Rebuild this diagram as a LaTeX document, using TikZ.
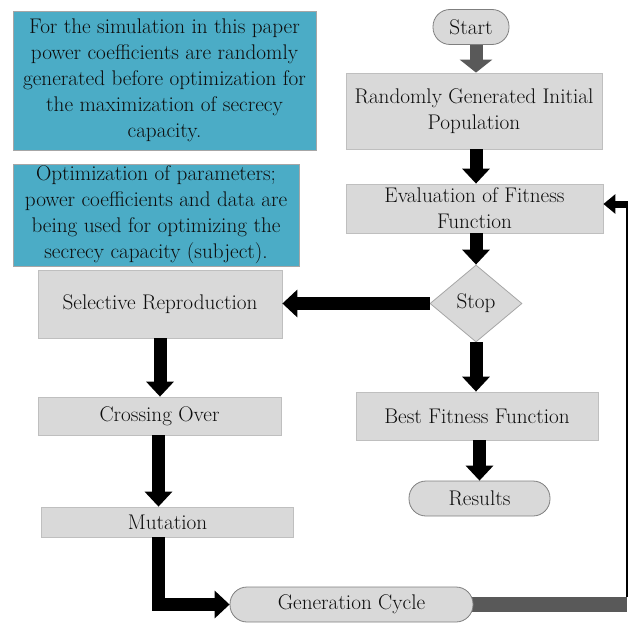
\documentclass[tikz,border=0pt]{standalone}
\usepackage{fontspec}
\usetikzlibrary{arrows.meta,shapes.geometric}
\definecolor{boxfill}{HTML}{D9D9D9}
\definecolor{boxline}{HTML}{BFBFBF}
\definecolor{roundline}{HTML}{7F7F7F}
\definecolor{tealbox}{HTML}{4BACC6}
\definecolor{tealline}{HTML}{A6A6A6}
\definecolor{arrgray}{HTML}{595959}
\definecolor{txt}{HTML}{0D0D0D}
\pgfdeclarelayer{background}
\pgfsetlayers{background,main}
\begin{document}
\begin{tikzpicture}[x=1pt,y=-1pt,
  every node/.style={font=\rmfamily\fontsize{21.2}{26}\selectfont, text=txt, align=center, inner sep=0pt},
  bluebox/.style={draw=tealline, fill=tealbox, line width=0.8pt},
  graybox/.style={draw=boxline, fill=boxfill, line width=0.8pt},
  roundbox/.style={draw=roundline, fill=boxfill, line width=0.8pt, rounded corners=17pt},
  decision/.style={diamond, draw=tealline, fill=boxfill, line width=0.8pt},
  blk/.style={draw=black, line width=13pt, -{Triangle[width=27pt,length=15pt]}},
  grayarr/.style={draw=arrgray, line width=13pt, -{Triangle[width=32pt,length=13pt]}},
  smallarr/.style={draw=black, line width=7pt, -{Triangle[width=19pt,length=12pt]}},
  loopline/.style={draw=black, line width=1.4pt},
  graybar/.style={draw=arrgray, line width=15pt}
]
\useasboundingbox (0,0) rectangle (628,623);

% notes
\node[bluebox, minimum width=303pt, minimum height=139pt] (note1) at (164.5,80.5)
  {For the simulation in this paper\\power coefficients are randomly\\generated before optimization for\\the maximization of secrecy\\capacity.};
\node[bluebox, minimum width=286pt, minimum height=102pt] (note2) at (156,215)
  {Optimization of parameters;\\power coefficients and data are\\being used for optimizing the\\secrecy capacity (subject).};

% right column
\node[roundbox, minimum width=76pt, minimum height=35pt] (start) at (471,27) {Start};
\node[graybox, minimum width=256pt, minimum height=76pt] (rand) at (474,111) {Randomly Generated Initial\\Population};
\node[graybox, minimum width=257pt, minimum height=49pt] (eval) at (474.5,208.5) {Evaluation of Fitness\\Function};
\node[decision, minimum width=92pt, minimum height=77pt] (stop) at (476,303.5) {Stop};
\node[graybox, minimum width=242pt, minimum height=48pt] (best) at (477,416) {Best Fitness Function};
\node[roundbox, minimum width=141pt, minimum height=35pt] (res) at (479.5,498.5) {Results};

% left column
\node[graybox, minimum width=244pt, minimum height=68pt] (sel) at (160,304) {Selective Reproduction};
\node[graybox, minimum width=243pt, minimum height=38pt] (cross) at (159.5,416) {Crossing Over};
\node[graybox, minimum width=252pt, minimum height=30pt] (mut) at (167.5,522) {Mutation};
\node[roundbox, minimum width=243pt, minimum height=35pt] (gen) at (351.5,604.5) {Generation Cycle};

\coordinate (c1) at (627,204);

% connectors
\draw[grayarr] (start.south -| stop) -- (rand.north -| stop);
\draw[blk] (rand.south -| stop) -- (eval.north -| stop);
\draw[blk] (eval.south -| stop) -- (stop.north);
\draw[blk] (stop.west) -- (stop.west -| sel.east);
\draw[blk] (stop.south) -- (stop.south |- best.north);
\draw[blk] (best.south -| res) -- (res.north);
\draw[blk] (sel.south) -- (sel.south |- cross.north);
\draw[blk] ([xshift=-1pt]cross.south) -- ([xshift=-1pt]cross.south |- mut.north);
\draw[blk] ([xshift=-1pt]mut.south -| cross) |- (gen.west);
\begin{pgfonlayer}{background}
\draw[graybar] (gen.center) -- (gen.center -| c1);
\end{pgfonlayer}
\draw[loopline] ([yshift=7.5pt]gen.center -| c1) -- (c1);
\draw[smallarr] ([xshift=0.7pt]c1) -- (c1 -| eval.east);
\end{tikzpicture}
\end{document}
